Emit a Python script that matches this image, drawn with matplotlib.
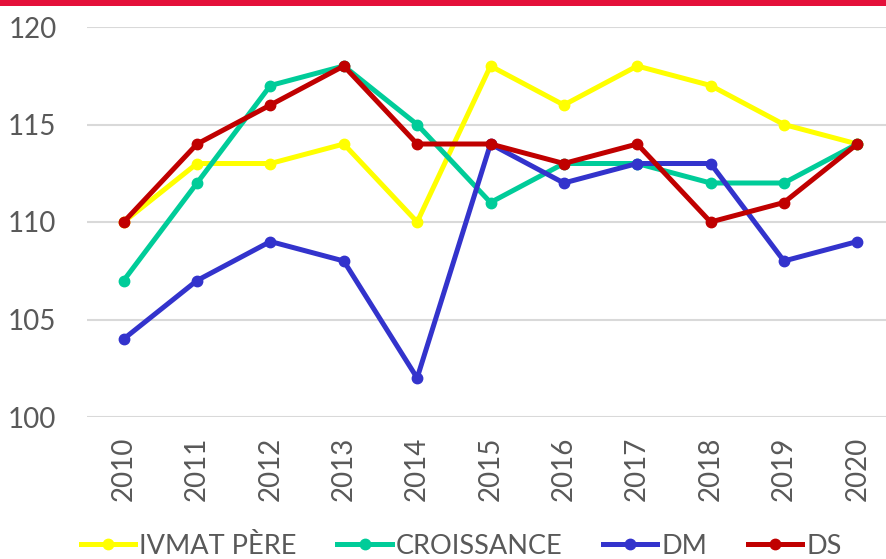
import matplotlib
matplotlib.use("Agg")
import matplotlib.pyplot as plt
from matplotlib.patches import Rectangle

# Séries annuelles (indices)
annees = ["2010", "2011", "2012", "2013", "2014", "2015",
          "2016", "2017", "2018", "2019", "2020"]
ivmat_pere = [110, 113, 113, 114, 110, 118, 116, 118, 117, 115, 114]
croissance = [107, 112, 117, 118, 115, 111, 113, 113, 112, 112, 114]
dm = [104, 107, 109, 108, 102, 114, 112, 113, 113, 108, 109]
ds = [110, 114, 116, 118, 114, 114, 113, 114, 110, 111, 114]

series = [
    ("IVMAT PÈRE", ivmat_pere, "#FFFF00"),
    ("CROISSANCE", croissance, "#00CC99"),
    ("DM", dm, "#3333CC"),
    ("DS", ds, "#C00000"),
]

plt.rcParams["font.family"] = ["Lato", "DejaVu Sans"]
gris = "#595959"

fig = plt.figure(figsize=(8.87, 5.59), dpi=100)
ax = fig.add_axes([87 / 887, 142 / 559, 807 / 887, 390 / 559])

x = list(range(len(annees)))
for nom, valeurs, couleur in series:
    ax.plot(x, valeurs, color=couleur, lw=3.6, marker="o", markersize=7.5,
            label=nom, solid_joinstyle="round")

ax.set_xlim(-0.5, len(annees) - 0.5)
ax.set_ylim(100, 120)
ax.set_yticks([100, 105, 110, 115, 120])
ax.set_xticks(x)
ax.set_xticklabels(annees, rotation=90)
ax.tick_params(axis="both", length=0, labelsize=20, labelcolor=gris)
ax.tick_params(axis="y", pad=22)
ax.tick_params(axis="x", pad=14)
ax.grid(axis="y", color="#D9D9D9", lw=1.5)
ax.set_axisbelow(True)
for s in ax.spines.values():
    s.set_visible(False)

# bandeau rouge en haut
fig.add_artist(Rectangle((0, 1 - 6 / 559), 1, 6 / 559, transform=fig.transFigure,
                         color="#E4103A", lw=0))

leg = fig.legend(loc="center", bbox_to_anchor=(0.52, 13 / 559), ncol=4, frameon=False,
                 fontsize=19.5, handlelength=2.0, handletextpad=0.15,
                 columnspacing=1.5, borderaxespad=0, borderpad=0)
for t in leg.get_texts():
    t.set_color(gris)

fig.savefig("out.png", dpi=100)
